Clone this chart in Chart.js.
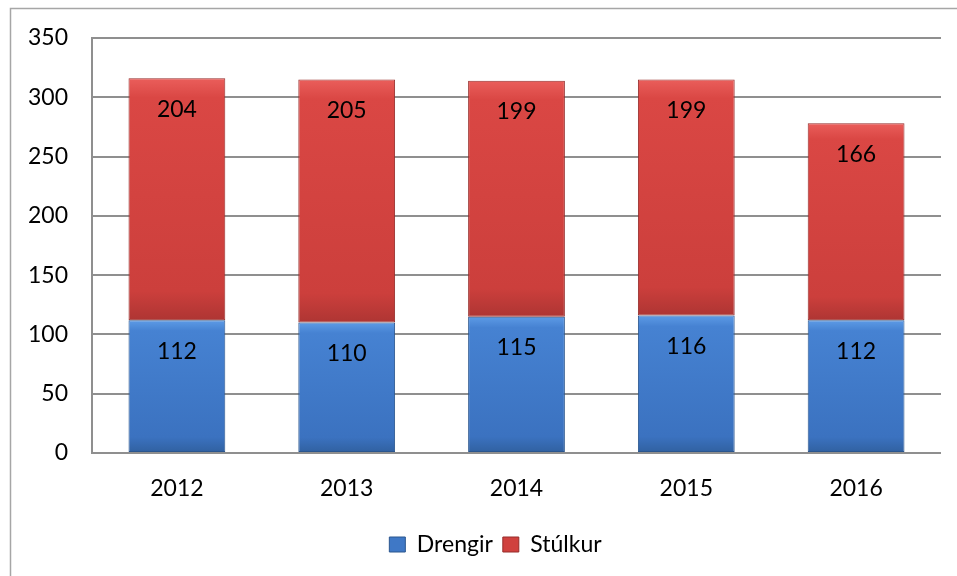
<!DOCTYPE html>
<html lang="is">
<head>
  <meta charset="UTF-8" />
  <title>Drengir og stúlkur 2012-2016</title>
  <script src="https://cdn.jsdelivr.net/npm/chart.js@4.4.8/dist/chart.umd.min.js"></script>
  <style>
    html, body { margin: 0; padding: 0; background: #fff; }
    #wrap { width: 957px; height: 576px; position: relative; }
  </style>
</head>
<body>
  <div id="wrap"><canvas id="chart" width="957" height="576"></canvas></div>

  <script>
    // gögn
    const years = ['2012', '2013', '2014', '2015', '2016'];
    const drengir = [112, 110, 115, 116, 112];
    const stulkur = [204, 205, 199, 199, 166];
    const yTicks = [0, 50, 100, 150, 200, 250, 300, 350];

    const FONT = 'Lato, "Open Sans", sans-serif';

    // lóðréttur litastigull fyrir hvern kassa
    function segGradient(ctx, top, bottom, stops) {
      const g = ctx.chart.ctx.createLinearGradient(0, top, 0, bottom);
      g.addColorStop(0, stops[0]);
      g.addColorStop(0.08, stops[1]);
      g.addColorStop(0.88, stops[2]);
      g.addColorStop(1, stops[3]);
      return g;
    }

    function barFill(stops, baseArr, valArr) {
      return function (ctx) {
        const chart = ctx.chart;
        const y = chart.scales.y;
        if (!chart.chartArea || !y || ctx.dataIndex === undefined) return stops[2];
        const i = ctx.dataIndex;
        const base = baseArr ? baseArr[i] : 0;
        const top = y.getPixelForValue(base + valArr[i]);
        const bottom = y.getPixelForValue(base);
        if (!isFinite(top) || !isFinite(bottom)) return stops[2];
        return segGradient(ctx, top, bottom, stops);
      };
    }

    const blueStops = ['#5d9be6', '#4682d2', '#3b72c0', '#30609f'];
    const redStops = ['#ea5e5b', '#da4744', '#cc3f3c', '#ae3533'];

    // rammi utan um myndina
    const frame = {
      id: 'frame',
      beforeDraw(chart) {
        const c = chart.ctx;
        c.save();
        c.strokeStyle = '#a6a6a6';
        c.lineWidth = 1.5;
        c.beginPath();
        c.moveTo(10.5, 576);
        c.lineTo(10.5, 8.5);
        c.lineTo(957, 8.5);
        c.stroke();
        c.restore();
      }
    };

    // skýringin er aðeins hægra megin við miðju í frumriti
    const legendShift = {
      id: 'legendShift',
      afterLayout(chart) {
        if (chart.legend) chart.legend.left += 50;
      }
    };

    // tölur inni í súlunum
    const valueLabels = {
      id: 'valueLabels',
      afterDatasetsDraw(chart) {
        const c = chart.ctx;
        c.save();
        c.font = '23px ' + FONT;
        c.fillStyle = '#000';
        c.textAlign = 'center';
        c.textBaseline = 'middle';
        chart.data.datasets.forEach((ds, di) => {
          chart.getDatasetMeta(di).data.forEach((bar, i) => {
            c.fillText(String(ds.data[i]), bar.x, bar.y + 31);
          });
        });
        c.restore();
      }
    };

    new Chart(document.getElementById('chart'), {
      type: 'bar',
      data: {
        labels: years,
        datasets: [
          {
            label: 'Drengir',
            data: drengir,
            backgroundColor: barFill(blueStops, null, drengir),
            borderColor: '#2b568e',
            borderWidth: 1,
            borderSkipped: false
          },
          {
            label: 'Stúlkur',
            data: stulkur,
            backgroundColor: barFill(redStops, drengir, stulkur),
            borderColor: '#962c2a',
            borderWidth: 1,
            borderSkipped: false
          }
        ]
      },
      options: {
        responsive: false,
        animation: false,
        layout: { padding: { top: 38, right: 16, bottom: 10, left: 0 } },
        datasets: { bar: { categoryPercentage: 1, barPercentage: 0.57 } },
        scales: {
          x: {
            stacked: true,
            grid: { display: false, drawTicks: false },
            border: { display: false },
            ticks: { color: '#000', font: { family: FONT, size: 23 }, padding: 22 },
            afterFit(s) { s.height = 70; }
          },
          y: {
            stacked: true,
            min: 0,
            max: 350,
            afterBuildTicks(s) { s.ticks = yTicks.map(v => ({ value: v })); },
            grid: { color: '#8f8f8f', lineWidth: 2, drawTicks: false },
            border: { display: true, color: '#8f8f8f', width: 2 },
            ticks: { color: '#000', font: { family: FONT, size: 23 }, padding: 24 },
            afterFit(s) { s.width = 92; }
          }
        },
        plugins: {
          tooltip: { enabled: false },
          legend: {
            position: 'bottom',
            labels: {
              color: '#000',
              font: { family: FONT, size: 23 },
              boxWidth: 16,
              boxHeight: 15,
              padding: 10,
              generateLabels(chart) {
                return chart.data.datasets.map((ds, i) => ({
                  text: ds.label,
                  fillStyle: i === 0 ? '#3f78c6' : '#d0413e',
                  strokeStyle: i === 0 ? '#2b568e' : '#962c2a',
                  lineWidth: 1,
                  datasetIndex: i,
                  hidden: false
                }));
              }
            }
          }
        }
      },
      plugins: [frame, legendShift, valueLabels]
    });
  </script>
</body>
</html>
